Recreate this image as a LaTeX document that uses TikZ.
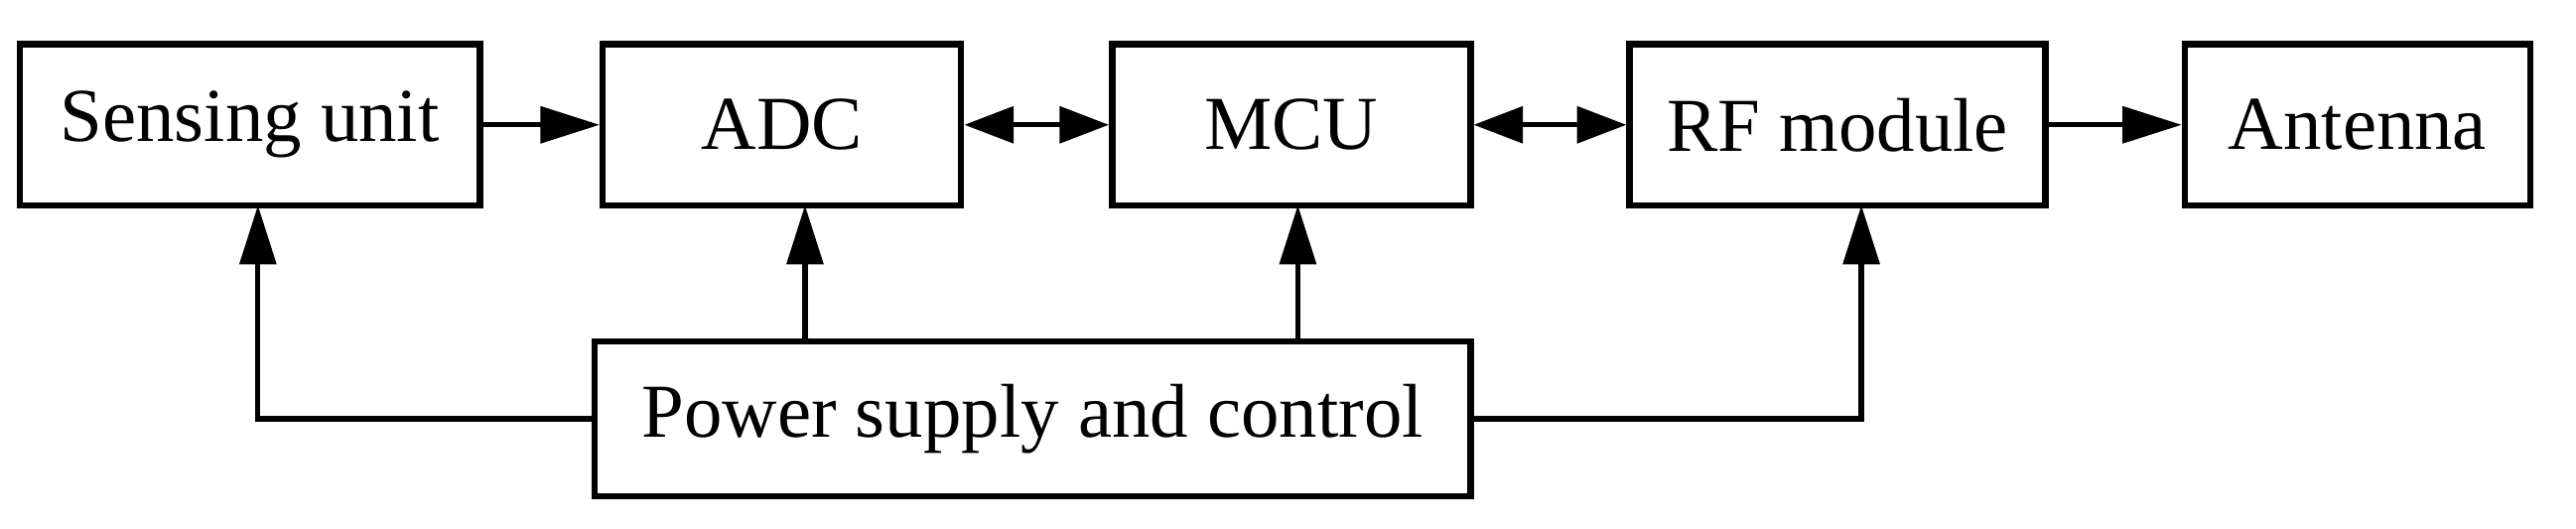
\documentclass[tikz,border=0pt]{standalone}
\usepackage{fontspec}
\setmainfont{Liberation Serif}
\usetikzlibrary{arrows.meta}
\begin{document}
\begin{tikzpicture}[x=0.01cm,y=-0.01cm,
 box/.style={draw,line width=1.1pt,inner sep=0pt,font=\fontsize{13.2}{15}\selectfont},
 con/.style={line width=0.9pt},
 tip/.style={-{Triangle[length=0.36cm,width=0.22cm]}},
 btip/.style={{Triangle[length=0.3cm,width=0.22cm]}-{Triangle[length=0.3cm,width=0.22cm]}}]
\useasboundingbox (0,0) rectangle (1568,321.5);
\node[box,minimum width=2.8cm,minimum height=0.98cm] (s) at (152,76) {Sensing unit};
\node[box,minimum width=2.18cm,minimum height=0.98cm] (a) at (476,76) {ADC};
\node[box,minimum width=2.18cm,minimum height=0.98cm] (m) at (786,76) {MCU};
\node[box,minimum width=2.53cm,minimum height=0.98cm] (r) at (1118.5,76) {RF module};
\node[box,minimum width=2.1cm,minimum height=0.98cm] (t) at (1435,76) {Antenna};
\node[box,minimum width=5.33cm,minimum height=0.94cm] (p) at (628.5,255) {Power supply and control};
\draw[con,tip] (s) -- (a);
\draw[con,btip] (a) -- (m);
\draw[con,btip] (m) -- (r);
\draw[con,tip] (r) -- (t);
\coordinate (sx) at (157,125);
\draw[con,tip] (p.west) -| (sx);
\coordinate (ax) at (490,125);
\coordinate (mx) at (790,125);
\draw[con,tip] (p.north -| ax) -- (ax);
\draw[con,tip] (p.north -| mx) -- (mx);
\coordinate (rx) at (1133,125);
\draw[con,tip] (p.east) -| (rx);
\end{tikzpicture}
\end{document}
